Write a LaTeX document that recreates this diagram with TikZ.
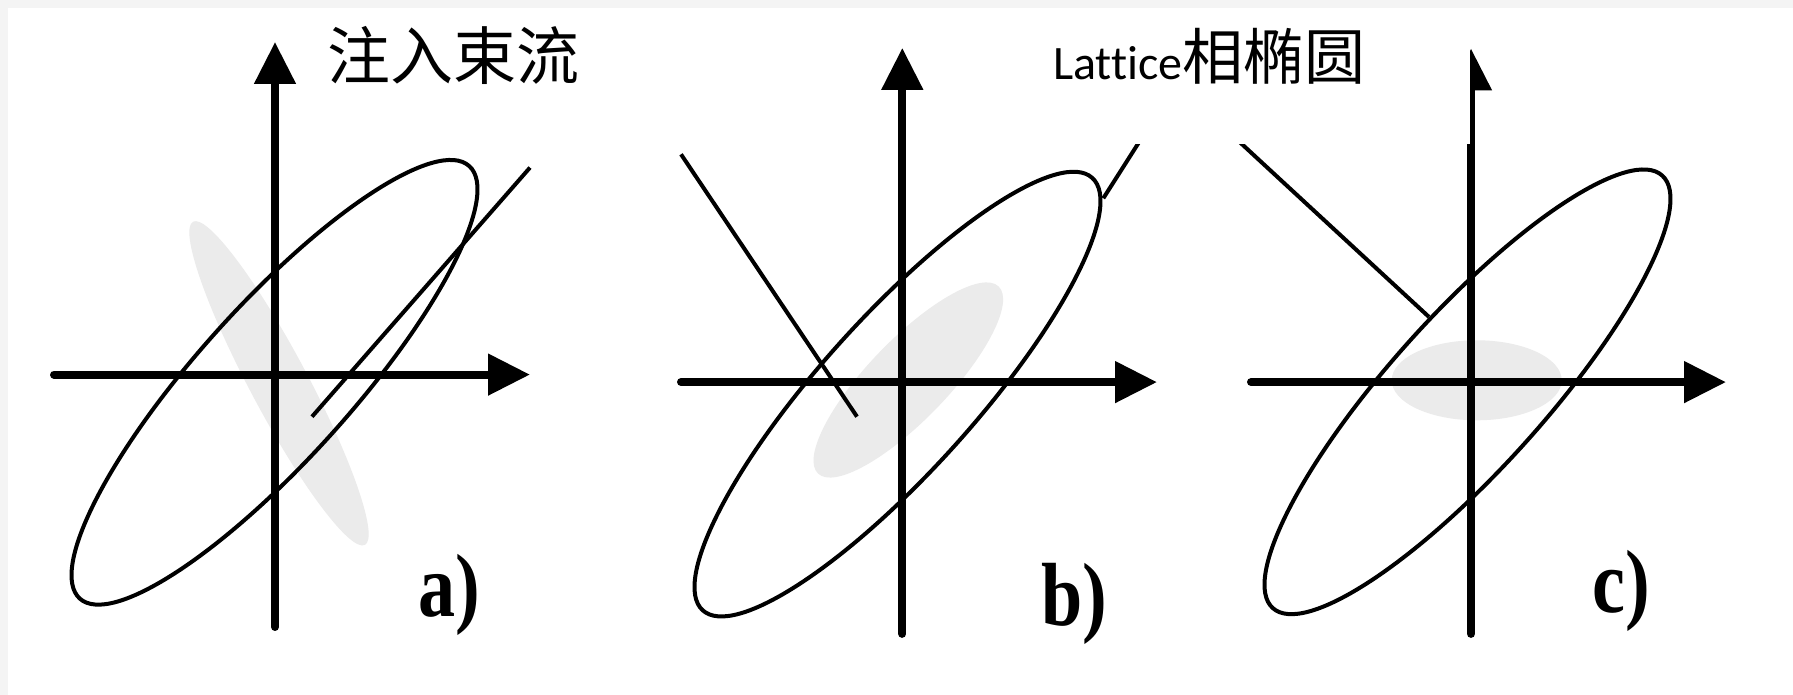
\documentclass[tikz,border=0pt]{standalone}
\usepackage{graphicx}
\usepackage{fontspec}
\newfontfamily\hanzi{Noto Sans CJK SC}
\newfontfamily\latticefont[Ligatures=NoCommon]{Carlito}
\newfontfamily\labfont{Liberation Serif}
\usetikzlibrary{arrows.meta}
\definecolor{ink}{HTML}{000000}
\definecolor{beamFill}{HTML}{EBEBEB}
\definecolor{edgeFill}{HTML}{F4F4F4}
\tikzset{
  axisarr/.style={-{Triangle[length=42pt 0,width=40pt 0]},draw=ink,line width=8pt,line cap=round},
  ellline/.style={draw=ink,line width=4pt},
  beam/.style={fill=beamFill,draw=none},
  trace/.style={draw=ink,line width=4pt},
  ttl/.style={inner sep=0pt,anchor=base west,text=ink},
  panellab/.style={inner sep=0pt,font=\labfont\bfseries\fontsize{78}{78}\selectfont,text=ink}}

\begin{document}
\begin{tikzpicture}[x=1pt,y=1pt]
\useasboundingbox (0,0) rectangle (1793,695);
\fill[edgeFill] (0,0) rectangle (1793,695);
\fill[white] (8,0) rectangle (1793,687);
% a) injected beam
\coordinate (acen) at (274.5,312.7);
\coordinate (abeam) at (279,311.7);
\fill[beam,rotate around={-62:(abeam)}] (abeam) ellipse [x radius=183,y radius=29];
\draw[ellline,rotate around={48:(acen)}] (acen) ellipse [x radius=291,y radius=77];
\coordinate (alo) at (312,278.3); \coordinate (ahi) at (530,527.4);
\draw[trace] (alo) -- (ahi);
\coordinate (axl) at (54,320.4); \coordinate (axr) at (530,320.4);
\coordinate (ayb) at (275,68); \coordinate (ayt) at (275,653);
\draw[axisarr] (axl) -- (axr);
\draw[axisarr] (ayb) -- (ayt);
\node[panellab] (laba) at (449.5,100) {\scalebox{0.95}[1.15]{a)}};
% b)
\coordinate (bcen) at (897.5,300.9);
\coordinate (bbeam) at (908.3,315);
\fill[beam,rotate around={46:(bbeam)}] (bbeam) ellipse [x radius=130,y radius=40];
\draw[ellline,rotate around={48:(bcen)}] (bcen) ellipse [x radius=291,y radius=77];
\coordinate (blo) at (857,278.3); \coordinate (bhi) at (681,540.7);
\draw[trace] (blo) -- (bhi);
\coordinate (bedge) at (1103.3,496.7); \coordinate (bout) at (1143.6,560);
\draw[trace] (bedge) -- (bout);
\coordinate (bxl) at (681,312.9); \coordinate (bxr) at (1157,312.9);
\coordinate (byb) at (902.3,61.1); \coordinate (byt) at (902.3,647.1);
\draw[axisarr] (bxl) -- (bxr);
\draw[axisarr] (byb) -- (byt);
\node[panellab] (labb) at (1074.5,91) {\scalebox{0.95}[1.15]{b)}};
% c)
\coordinate (ccen) at (1467.5,303.2);
\coordinate (cbeam) at (1476.7,314.7);
\fill[beam] (cbeam) ellipse [x radius=85,y radius=40];
\draw[ellline,rotate around={48:(ccen)}] (ccen) ellipse [x radius=291,y radius=77];
\coordinate (clo) at (1429,378); \coordinate (chi) at (1232,560);
\draw[trace] (clo) -- (chi);
\coordinate (cxl) at (1251,312.9); \coordinate (cxr) at (1726,312.9);
\coordinate (cyb) at (1471,61.1); \coordinate (cyt) at (1471,646.5);
\draw[axisarr] (cxl) -- (cxr);
\draw[axisarr] (cyb) -- (cyt);
\node[panellab] (labc) at (1621.5,104.4) {\scalebox{0.95}[1.15]{c)}};
% title boxes
\fill[white] (1000,551) rectangle (1470,687);
\node[ttl,font=\hanzi\fontsize{63}{63}\selectfont] (ttlbeam) at (327,615) {注入束流};
\node[ttl] (ttllat) at (1053,615) {{\latticefont\fontsize{48}{48}\selectfont Lattice}{\hanzi\fontsize{61}{61}\selectfont 相椭圆}};
\end{tikzpicture}
\end{document}
